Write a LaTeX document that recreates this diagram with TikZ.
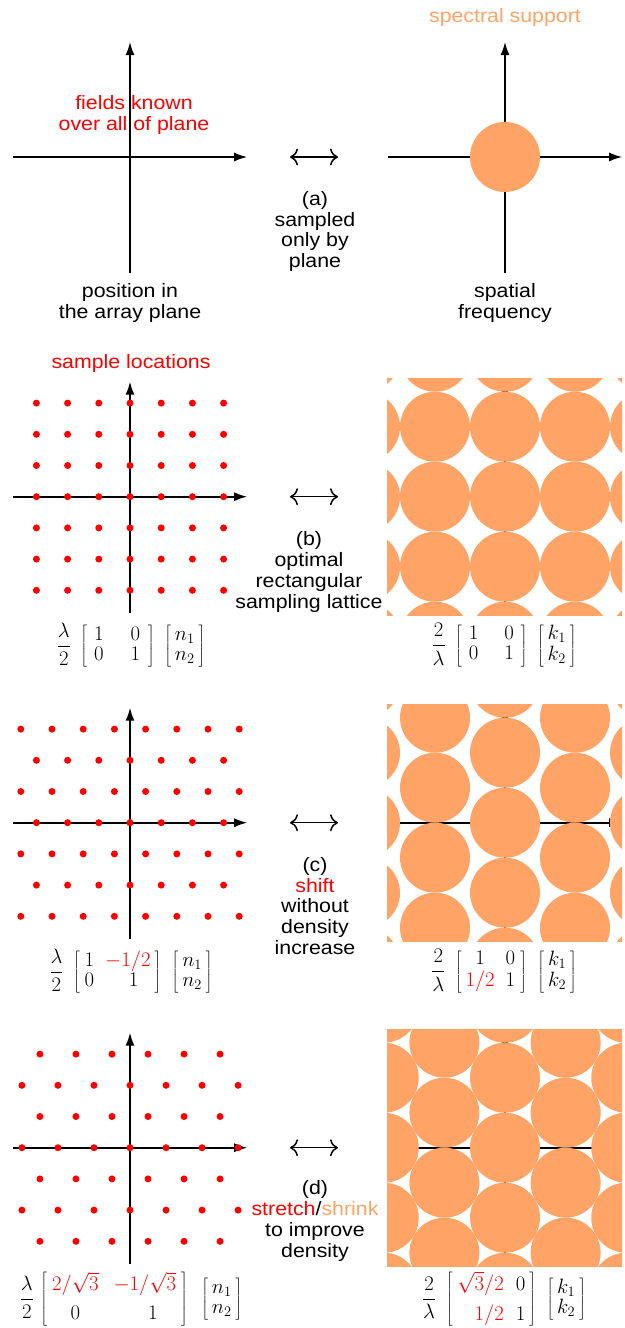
\documentclass[tikz,border=0pt]{standalone}
\usepackage[no-math]{fontspec}
\newfontfamily\lsans[FakeStretch=1.1]{Liberation Sans}
\usetikzlibrary{arrows.meta}
\definecolor{sred}{RGB}{255,0,0}
\definecolor{sorange}{RGB}{255,163,102}
\newcommand\myvec[2]{\left[\begin{array}{@{\hspace{4pt}}c@{\hspace{4pt}}}#1\\#2\end{array}\right]}
\newcommand\mkaxes[3]{%
  \coordinate (#1W) at ({#2-117.5},#3);
  \coordinate (#1E) at ({#2+117.2},#3);
  \coordinate (#1S) at (#2,{#3+116});
  \coordinate (#1N) at (#2,{#3-115});
  \draw[axarrow] (#1W) -- (#1E);
  \draw[axarrow] (#1S) -- (#1N);}
\newcommand\mkdual[2]{%
  \coordinate (#1l) at (290,#2);
  \coordinate (#1r) at (338,#2);
  \draw[dualarrow] (#1l) -- (#1r);}
\begin{document}
\begin{tikzpicture}[x=1pt,y=-1pt,
  axarrow/.style={line width=1.6pt,-{Latex[length=13pt,width=9pt]}},
  lbl/.style={font=\lsans\fontsize{19.4}{20.8}\selectfont,align=center,inner sep=0pt},
  sdot/.style={fill=sred},
  sdisc/.style={fill=sorange},
  mathlbl/.style={font=\fontsize{20.3}{20}\selectfont,inner sep=0pt},
  dualarrow/.style={line width=1.5pt,{Computer Modern Rightarrow[length=8pt,width=17pt]}-{Computer Modern Rightarrow[length=8pt,width=17pt]}}]
\useasboundingbox (0,0) rectangle (624,1328);

% ---------- panel (a)
\mkaxes{aL}{130}{157}
\mkaxes{aR}{505}{157}
\fill[sdisc] (505,157) circle[radius=35pt];
\node[lbl,text=sred] (known) at (134,115) {fields known\\over all of plane};
\node[lbl] (posn) at (130,303) {position in\\the array plane};
\node[lbl,text=sorange] (spsup) at (505,17) {spectral support};
\node[lbl] (spfreq) at (505,303) {spatial\\frequency};
\mkdual{dualA}{157}
\node[lbl] (capA) at (315,231.5) {(a)\\sampled\\only by\\plane};

% ---------- panel (b)
\mkaxes{bL}{130}{496.7}
\foreach \j in {-3,...,3}{\foreach \i in {-3,...,3}{%
  \fill[sdot] ({130+31.2*\i},{496.7-31.2*\j}) circle[radius=3.5pt];}}
\mkaxes{bR}{505}{496.7}
\begin{scope}
  \clip (387,{496.7-118.5}) rectangle (622,{496.7+119});
  \foreach \a in {-3,...,3}{\foreach \b in {-3,...,3}{%
    \fill[sdisc] ({505+70*\a},{496.7-70*\b}) circle[radius=35pt];}}
\end{scope}
\node[lbl,text=sred] (sloc) at (131,363) {sample locations};
\mkdual{dualB}{496.7}
\node[lbl] (capB) at (309,572) {(b)\\optimal\\rectangular\\sampling lattice};
\node[mathlbl] (matBL) at (131,645) {$\displaystyle\frac{\lambda}{2}\hspace{6pt}\left[\begin{array}{@{\hspace{7pt}}c@{\hspace{27pt}}c@{\hspace{8pt}}}1&0\\0&1\end{array}\right]\hspace{6pt}\myvec{n_1}{n_2}$};
\node[mathlbl] (matBR) at (504,645) {$\displaystyle\frac{2}{\lambda}\hspace{6pt}\left[\begin{array}{@{\hspace{7pt}}c@{\hspace{26pt}}c@{\hspace{7pt}}}1&0\\0&1\end{array}\right]\hspace{6pt}\myvec{k_1}{k_2}$};

% ---------- panel (c)
\mkaxes{cL}{130}{822.7}
\foreach \j in {-3,...,3}{\foreach \i in {-6,...,6}{%
  \pgfmathsetmacro\xx{\i-\j/2}%
  \pgfmathtruncatemacro\ok{abs(\xx)<3.6}%
  \ifnum\ok=1 \fill[sdot] ({130+31.2*\xx},{822.7-31.2*\j}) circle[radius=3.5pt];\fi}}
\mkaxes{cR}{505}{822.7}
\begin{scope}
  \clip (387,{822.7-118.5}) rectangle (622,{822.7+119});
  \foreach \a in {-3,...,3}{\foreach \b in {-4,...,4}{%
    \fill[sdisc] ({505+70*\a},{822.7-70*(\a/2+\b)}) circle[radius=35pt];}}
\end{scope}
\mkdual{dualC}{822.7}
\node[lbl] (capC) at (315,906) {(c)\\\textcolor{sred}{shift}\\without\\density\\increase};
\node[mathlbl] (matCL) at (131,971) {$\displaystyle\frac{\lambda}{2}\hspace{6pt}\left[\begin{array}{@{\hspace{5pt}}c@{\hspace{11pt}}r@{\hspace{4pt}}}1&{\color{sred}-1/2}\\0&1\hspace{12pt}\end{array}\right]\hspace{7pt}\myvec{n_1}{n_2}$};
\node[mathlbl] (matCR) at (504,971) {$\displaystyle\frac{2}{\lambda}\hspace{6pt}\left[\begin{array}{@{\hspace{4pt}}c@{\hspace{11pt}}c@{\hspace{5pt}}}1&0\\{\color{sred}1/2}&1\end{array}\right]\hspace{7pt}\myvec{k_1}{k_2}$};

% ---------- panel (d)
\mkaxes{dL}{130}{1147.7}
\foreach \j in {-3,...,3}{\foreach \i in {-6,...,6}{%
  \pgfmathsetmacro\xx{(2*\i-\j)/sqrt(3)}%
  \pgfmathtruncatemacro\ok{abs(\xx)<3.6}%
  \ifnum\ok=1 \fill[sdot] ({130+31.2*\xx},{1147.7-31.2*\j}) circle[radius=3.5pt];\fi}}
\mkaxes{dR}{505}{1147.7}
\begin{scope}
  \clip (387,{1147.7-118.5}) rectangle (622,{1147.7+119});
  \foreach \a in {-3,...,3}{\foreach \b in {-4,...,4}{%
    \fill[sdisc] ({505+60.622*\a},{1147.7-70*(\a/2+\b)}) circle[radius=35pt];}}
\end{scope}
\mkdual{dualD}{1147.7}
\node[lbl] (capD) at (315,1221) {(d)\\\textcolor{sred}{stretch}/\textcolor{sorange}{shrink}\\to improve\\density};
\node[mathlbl] (matDL) at (131,1299) {$\displaystyle\frac{\lambda}{2}\hspace{3pt}\left[\begin{array}{@{\hspace{5pt}}c@{\hspace{15pt}}c@{\hspace{5pt}}}{\color{sred}2/\sqrt{3}}&{\color{sred}-1/\sqrt{3}}\\[9pt]0&\hspace{16pt}1\end{array}\right]\hspace{10pt}\myvec{n_1}{n_2}$};
\node[mathlbl] (matDR) at (504,1299) {$\displaystyle\frac{2}{\lambda}\hspace{6pt}\left[\begin{array}{@{\hspace{5pt}}r@{\hspace{12pt}}c@{\hspace{4pt}}}{\color{sred}\sqrt{3}/2}&0\\[9pt]{\color{sred}1/2}&1\end{array}\right]\hspace{7pt}\myvec{k_1}{k_2}$};
\end{tikzpicture}
\end{document}
